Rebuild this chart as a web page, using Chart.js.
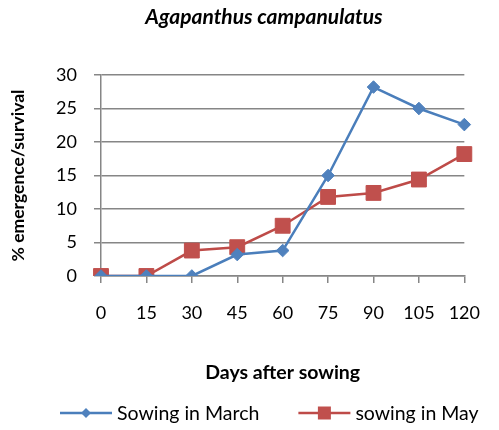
<!DOCTYPE html>
<html>
<head>
<meta charset="utf-8">
<script src="https://cdn.jsdelivr.net/npm/chart.js@4/dist/chart.umd.min.js"></script>
<style>
  html, body { margin: 0; padding: 0; background: #fff; }
  #wrap { width: 499px; height: 430px; }
</style>
</head>
<body>
<div id="wrap"><canvas id="agapanthus"></canvas></div>
<script>
// days after sowing
let days = ['0', '15', '30', '45', '60', '75', '90', '105', '120'];
let marchLabel = 'Sowing in March';
let mayLabel = 'sowing in May';
let marchData = [0, 0, 0, 3.2, 3.8, 15.0, 28.2, 25.0, 22.6];
let mayData = [0, 0, 3.8, 4.3, 7.5, 11.8, 12.4, 14.4, 18.2];
let yTicks = [0, 5, 10, 15, 20, 25, 30];
let chartTitle = 'Agapanthus campanulatus';

let blue = '#4A7EBB';
let blueFill = '#4F81BD';
let red = '#BE4B48';
let redFill = '#C0504D';
let gridGrey = '#868686';
let fontName = 'Lato, "Open Sans", sans-serif';

Chart.defaults.font.family = fontName;
Chart.defaults.color = '#000';

// title sits a bit left of the canvas centre, like the original sheet
const sheetTitle = {
  id: 'sheetTitle',
  afterDraw(chart, args, opts) {
    const g = chart.ctx;
    g.save();
    g.font = 'italic bold 21px ' + fontName;
    g.fillStyle = '#000';
    g.textAlign = 'center';
    g.textBaseline = 'middle';
    g.fillText(opts.text, opts.x, opts.y);
    g.restore();
  }
};

// legend drawn by hand: line sample with marker, then the label
const lineLegend = {
  id: 'lineLegend',
  afterDraw(chart, args, opts) {
    const g = chart.ctx;
    const y = opts.y;
    let x = opts.x;
    g.save();
    g.font = '19.5px ' + fontName;
    g.textBaseline = 'middle';
    g.textAlign = 'left';
    chart.data.datasets.forEach(function (ds) {
      g.strokeStyle = ds.borderColor;
      g.lineWidth = 2.5;
      g.beginPath();
      g.moveTo(x, y);
      g.lineTo(x + opts.lineLen, y);
      g.stroke();
      const cx = x + opts.lineLen / 2;
      g.fillStyle = ds.pointBackgroundColor;
      g.beginPath();
      if (ds.pointStyle === 'rectRot') {
        g.moveTo(cx, y - 5);
        g.lineTo(cx + 5, y);
        g.lineTo(cx, y + 5);
        g.lineTo(cx - 5, y);
      } else {
        g.rect(cx - 6.5, y - 6.5, 13, 13);
      }
      g.closePath();
      g.fill();
      x += opts.lineLen + opts.textGap;
      g.fillStyle = '#000';
      g.fillText(ds.label, x, y + 1);
      x += g.measureText(ds.label).width + opts.itemGap;
    });
    g.restore();
  }
};

var ctx = document.getElementById('agapanthus').getContext('2d');
var chart = new Chart(ctx, {
  type: 'line',
  data: {
    labels: days,
    datasets: [{
      label: marchLabel,
      data: marchData,
      borderColor: blue,
      backgroundColor: blueFill,
      borderWidth: 2.5,
      pointStyle: 'rectRot',
      pointRadius: 6.3,
      pointBorderWidth: 1,
      pointBorderColor: blueFill,
      pointBackgroundColor: blueFill,
      tension: 0
    }, {
      label: mayLabel,
      data: mayData,
      borderColor: red,
      backgroundColor: redFill,
      borderWidth: 2.5,
      pointStyle: 'rect',
      pointRadius: 10.5,
      pointBorderWidth: 1,
      pointBorderColor: redFill,
      pointBackgroundColor: redFill,
      tension: 0
    }]
  },
  plugins: [sheetTitle, lineLegend],
  options: {
    responsive: true,
    maintainAspectRatio: false,
    animation: false,
    layout: { padding: { left: 0, right: 18, top: 75, bottom: 40 } },
    plugins: {
      title: { display: false },
      sheetTitle: { text: chartTitle, x: 264, y: 17 },
      legend: { display: false },
      lineLegend: { x: 60, y: 413, lineLen: 52, textGap: 5, itemGap: 39 },
      tooltip: { enabled: false }
    },
    scales: {
      x: {
        offset: false,
        afterFit: function (scale) { scale.height = 114; },
        grid: {
          drawOnChartArea: false,
          drawTicks: true,
          tickLength: 7,
          color: gridGrey,
          lineWidth: 1.5
        },
        border: { display: true, color: gridGrey, width: 1.5 },
        ticks: { padding: 19, font: { size: 18 }, color: '#000', maxRotation: 0, autoSkip: false },
        title: {
          display: true,
          text: 'Days after sowing',
          font: { size: 19.5, weight: 'bold' },
          color: '#000',
          padding: { top: 20, bottom: 6 }
        }
      },
      y: {
        min: 0,
        max: 30,
        afterBuildTicks: function (scale) {
          scale.ticks = yTicks.map(function (v) { return { value: v }; });
        },
        afterFit: function (scale) { scale.width = 101; },
        grid: {
          color: gridGrey,
          lineWidth: 1.5,
          tickLength: 7
        },
        border: { display: true, color: gridGrey, width: 1.5 },
        ticks: { padding: 17, font: { size: 18 }, color: '#000', autoSkip: false },
        title: {
          display: true,
          text: '% emergence/survival',
          font: { size: 17.5, weight: 'bold' },
          color: '#000',
          padding: { top: 8, bottom: 27 }
        }
      }
    }
  }
});
</script>
</body>
</html>
